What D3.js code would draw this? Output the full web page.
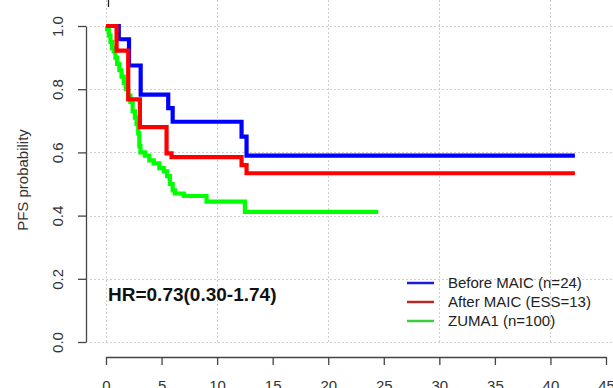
<!DOCTYPE html>
<html>
<head>
<meta charset="utf-8">
<script src="https://cdn.jsdelivr.net/npm/d3@7"></script>
<style>
  body { margin: 0; background: #fff; }
  svg { display: block; font-family: Arial, "Liberation Sans", sans-serif; }
</style>
</head>
<body>
<div id="chart"></div>
<script>
// Kaplan-Meier step data
const beforeTimes = [0, 1.15, 2.07, 3.12, 5.6, 6.0, 12.2, 12.65, 42.2];
const beforeSurv  = [1.0, 0.958, 0.875, 0.783, 0.740, 0.697, 0.650, 0.590, 0.590];

const afterTimes = [0, 0.95, 2.0, 3.05, 5.45, 5.9, 12.2, 12.65, 42.2];
const afterSurv  = [1.0, 0.922, 0.768, 0.680, 0.597, 0.585, 0.560, 0.534, 0.534];

const zumaTimes = [0, 0.1, 0.25, 0.4, 0.55, 0.7, 0.85, 1.0, 1.2, 1.4, 1.6, 1.8, 2.0, 2.2, 2.4, 2.6, 2.75, 2.9, 3.0,
                   3.1, 3.5, 3.9, 4.3, 4.8, 5.2, 5.5, 5.75, 6.0, 6.2, 7.0, 9.05, 12.5, 24.5];
const zumaSurv  = [1.0, 0.99, 0.97, 0.95, 0.93, 0.92, 0.90, 0.88, 0.86, 0.84, 0.82, 0.80, 0.78, 0.76, 0.73, 0.71, 0.69, 0.66, 0.62,
                   0.60, 0.59, 0.575, 0.565, 0.55, 0.54, 0.525, 0.50, 0.48, 0.47, 0.462, 0.444, 0.412, 0.412];

const seriesNames = ['Before MAIC (n=24)', 'After MAIC (ESS=13)', 'ZUMA1 (n=100)'];
const seriesColors = ['#0000ff', '#ff0000', '#00ff00'];
const legendColors = ['#1c1cd8', '#b82828', '#3ccc3c'];

const xTicks = [0, 5, 10, 15, 20, 25, 30, 35, 40, 45];
const xGrid = [0, 10, 20, 30, 40];
const yTicks = [0, 0.2, 0.4, 0.6, 0.8, 1.0];

const hrLabel = 'HR=0.73(0.30-1.74)';
const yLabel = 'PFS probability';

const W = 613, H = 388;

const svg = d3.select('#chart').append('svg')
    .attr('width', W)
    .attr('height', H);

const x = d3.scaleLinear().domain([0, 45]).range([106, 606]);
const y = d3.scaleLinear().domain([0, 1]).range([342, 26]);

// Grid
svg.append('g').selectAll('line')
    .data(yTicks)
    .enter().append('line')
    .attr('x1', 90).attr('x2', W)
    .attr('y1', d => Math.round(y(d)) + 0.5)
    .attr('y2', d => Math.round(y(d)) + 0.5)
    .style('stroke', '#cfcfcf')
    .style('stroke-dasharray', '2,2');

svg.append('g').selectAll('line')
    .data(xGrid)
    .enter().append('line')
    .attr('x1', d => Math.round(x(d)) + 0.5)
    .attr('x2', d => Math.round(x(d)) + 0.5)
    .attr('y1', 0).attr('y2', 343)
    .style('stroke', '#cfcfcf')
    .style('stroke-dasharray', '2,2');

// Axes
const xAxis = svg.append('g')
    .attr('transform', 'translate(0,357)')
    .call(d3.axisBottom(x).tickValues(xTicks).tickSize(8).tickSizeOuter(0));
xAxis.select('.domain').style('stroke', '#444').style('stroke-width', 1.3);
xAxis.selectAll('.tick line').style('stroke', '#444').style('stroke-width', 1.3);
xAxis.selectAll('.tick text')
    .style('font-size', '15px')
    .style('fill', '#333')
    .attr('dy', null)
    .attr('y', 34);

const yAxis = svg.append('g')
    .attr('transform', 'translate(86,0)')
    .call(d3.axisLeft(y).tickValues(yTicks).tickSize(8).tickSizeOuter(0).tickFormat(d3.format('.1f')));
yAxis.select('.domain').style('stroke', '#444').style('stroke-width', 1.3);
yAxis.selectAll('.tick line').style('stroke', '#444').style('stroke-width', 1.3);
yAxis.selectAll('.tick text')
    .style('font-size', '15px')
    .style('fill', '#333')
    .attr('x', null).attr('dy', null)
    .attr('text-anchor', 'middle')
    .attr('transform', 'translate(-23,0) rotate(-90)');

svg.append('text')
    .attr('transform', `translate(28,${(y(0) + y(1)) / 2 - 4}) rotate(-90)`)
    .attr('text-anchor', 'middle')
    .style('font-size', '15px')
    .style('fill', '#333')
    .text(yLabel);

// small mark at top edge
svg.append('line')
    .attr('x1', 108.5).attr('x2', 108.5)
    .attr('y1', 0).attr('y2', 7)
    .style('stroke', '#222').style('stroke-width', 1.3);

// KM curves
const line = d3.line()
    .x(d => x(d[0]))
    .y(d => y(d[1]))
    .curve(d3.curveStepAfter);

const series = [
    { times: zumaTimes, surv: zumaSurv, color: seriesColors[2] },
    { times: beforeTimes, surv: beforeSurv, color: seriesColors[0] },
    { times: afterTimes, surv: afterSurv, color: seriesColors[1] }
];

series.forEach(s => {
    svg.append('path')
        .datum(s.times.map((t, i) => [t, s.surv[i]]))
        .attr('d', line)
        .style('fill', 'none')
        .style('stroke', s.color)
        .style('stroke-width', 4.2)
        .style('stroke-linejoin', 'miter')
        .style('stroke-linecap', 'butt');
});

// HR label
svg.append('text')
    .attr('x', 108)
    .attr('y', 301)
    .style('font-size', '19px')
    .style('font-weight', 'bold')
    .style('fill', '#111')
    .text(hrLabel);

// Legend
const legend = svg.append('g').attr('transform', 'translate(407,283)');
seriesNames.forEach((name, i) => {
    const g = legend.append('g').attr('transform', `translate(0,${i * 19})`);
    g.append('line')
        .attr('x1', 0).attr('x2', 27)
        .attr('y1', 0).attr('y2', 0)
        .style('stroke', legendColors[i])
        .style('stroke-width', 2.5);
    g.append('text')
        .attr('x', 41)
        .attr('y', 5)
        .style('font-size', '15px')
        .style('fill', '#222')
        .text(name);
});
</script>
</body>
</html>
